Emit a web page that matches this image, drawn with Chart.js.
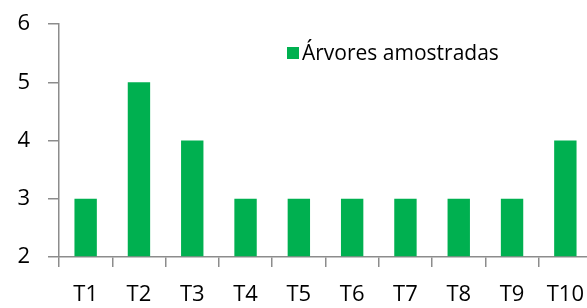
<!DOCTYPE html>
<html lang="pt">
<head>
    <meta charset="UTF-8">
    <title>Árvores amostradas</title>
    <style>
        html, body { margin: 0; padding: 0; background: #fff; overflow: hidden; }
        .wrap { position: relative; width: 600px; height: 308px; }
    </style>
</head>
<body>
    <div class="wrap">
        <canvas id="chart"></canvas>
    </div>

    <script src="https://cdn.jsdelivr.net/npm/chart.js"></script>
    <script>
        // data
        const categories = ['T1', 'T2', 'T3', 'T4', 'T5', 'T6', 'T7', 'T8', 'T9', 'T10'];
        const sampledTrees = [3, 5, 4, 3, 3, 3, 3, 3, 3, 4];
        const yTicks = [2, 3, 4, 5, 6];
        const seriesName = 'Árvores amostradas';

        const green = '#00b050';
        const axisGray = '#8c8c8c';
        const fontFamily = '"Open Sans", Lato, sans-serif';

        // legend drawn inside the plot area, like the original
        const insideLegend = {
            id: 'insideLegend',
            afterDraw(chart) {
                const { ctx, chartArea } = chart;
                const ds = chart.data.datasets[0];
                const x = chartArea.left + 228;
                const y = chartArea.top + 29;
                ctx.save();
                ctx.fillStyle = ds.backgroundColor;
                ctx.fillRect(x, y - 6, 12, 12);
                ctx.fillStyle = '#000';
                ctx.font = '21px ' + fontFamily;
                ctx.textBaseline = 'middle';
                ctx.fillText(ds.label, x + 15, y + 1);
                ctx.restore();
            }
        };

        new Chart(document.getElementById('chart'), {
            type: 'bar',
            data: {
                labels: categories,
                datasets: [{
                    label: seriesName,
                    data: sampledTrees,
                    backgroundColor: green,
                    categoryPercentage: 1,
                    barPercentage: 0.42,
                    base: 2
                }]
            },
            options: {
                responsive: true,
                maintainAspectRatio: false,
                animation: false,
                layout: { padding: { top: 24, right: 8, left: 1, bottom: 0 } },
                plugins: {
                    legend: { display: false },
                    tooltip: { enabled: false }
                },
                scales: {
                    x: {
                        afterFit(axis) { axis.height = 51; },
                        grid: {
                            offset: true,
                            drawOnChartArea: false,
                            color: axisGray,
                            tickLength: 10,
                            lineWidth: 1.5
                        },
                        border: { color: axisGray, width: 1.5 },
                        ticks: {
                            color: '#000',
                            padding: 15,
                            maxRotation: 0,
                            font: { size: 22, family: fontFamily }
                        }
                    },
                    y: {
                        min: 2,
                        max: 6,
                        afterFit(axis) {
                            axis.width = 58;
                            axis.paddingTop = 0;
                            axis.paddingBottom = 0;
                        },
                        afterBuildTicks(axis) {
                            axis.ticks = yTicks.map(v => ({ value: v }));
                        },
                        grid: {
                            drawOnChartArea: false,
                            color: axisGray,
                            tickLength: 11,
                            lineWidth: 1.5
                        },
                        border: { color: axisGray, width: 1.5 },
                        ticks: {
                            color: '#000',
                            padding: 18,
                            font: { size: 22, family: fontFamily }
                        }
                    }
                }
            },
            plugins: [insideLegend]
        });
    </script>
</body>
</html>
